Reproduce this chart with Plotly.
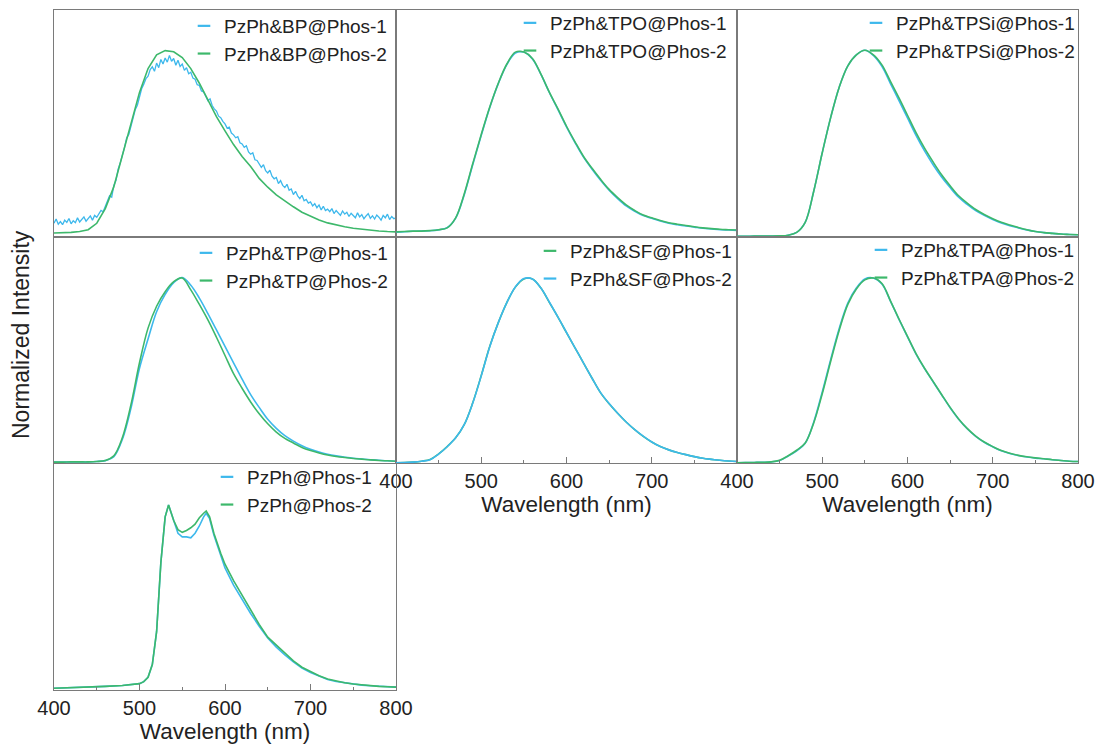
import plotly.graph_objects as go

# ---------------- data ----------------
wl10 = list(range(400, 801, 10))
wl2 = [400 + 2.5 * i for i in range(161)]

bp_1 = [0.055, 0.078, 0.050, 0.064, 0.047, 0.072, 0.060, 0.081, 0.052, 0.069,
        0.058, 0.085, 0.062, 0.074, 0.090, 0.066, 0.080, 0.095, 0.072, 0.098,
        0.088, 0.110, 0.125, 0.118, 0.150, 0.172, 0.205, 0.198, 0.262, 0.290,
        0.350, 0.385, 0.425, 0.470, 0.522, 0.540, 0.585, 0.628, 0.675, 0.700,
        0.745, 0.790, 0.815, 0.845, 0.858, 0.895, 0.910, 0.885, 0.930, 0.905,
        0.950, 0.925, 0.958, 0.935, 0.972, 0.940, 0.955, 0.918, 0.945, 0.912,
        0.925, 0.890, 0.905, 0.872, 0.880, 0.848, 0.842, 0.812, 0.808, 0.778,
        0.772, 0.748, 0.725, 0.735, 0.698, 0.680, 0.668, 0.640, 0.632, 0.612,
        0.598, 0.575, 0.580, 0.548, 0.538, 0.522, 0.528, 0.495, 0.488, 0.470,
        0.478, 0.445, 0.432, 0.440, 0.402, 0.398, 0.382, 0.360, 0.375, 0.342,
        0.330, 0.345, 0.312, 0.298, 0.305, 0.272, 0.288, 0.262, 0.250, 0.268,
        0.235, 0.242, 0.212, 0.230, 0.205, 0.190, 0.208, 0.178, 0.185, 0.165,
        0.172, 0.150, 0.162, 0.140, 0.155, 0.128, 0.148, 0.125, 0.132, 0.118,
        0.135, 0.108, 0.125, 0.112, 0.098, 0.122, 0.105, 0.115, 0.092, 0.110,
        0.098, 0.085, 0.112, 0.090, 0.102, 0.080, 0.095, 0.108, 0.082, 0.096,
        0.078, 0.100, 0.088, 0.072, 0.098, 0.085, 0.105, 0.075, 0.092, 0.080,
        0.085]
bp_2 = [0.002, 0.003, 0.005, 0.010, 0.020, 0.055, 0.135, 0.255, 0.430, 0.600,
        0.770, 0.900, 0.975, 0.998, 0.992, 0.960, 0.900, 0.820, 0.725, 0.637,
        0.560, 0.485, 0.420, 0.365, 0.300, 0.252, 0.210, 0.175, 0.145, 0.115,
        0.092, 0.073, 0.057, 0.045, 0.036, 0.028, 0.022, 0.017, 0.013, 0.010,
        0.008]

tpo_1 = [0.006, 0.009, 0.011, 0.013, 0.014, 0.019, 0.031, 0.083, 0.210, 0.375,
         0.535, 0.688, 0.818, 0.922, 0.985, 0.990, 0.952, 0.868, 0.768, 0.676,
         0.582, 0.496, 0.416, 0.350, 0.290, 0.236, 0.190, 0.150, 0.121, 0.097,
         0.082, 0.067, 0.055, 0.047, 0.040, 0.034, 0.028, 0.024, 0.020, 0.018,
         0.016]
tpo_2 = [0.008, 0.010, 0.012, 0.012, 0.015, 0.020, 0.030, 0.085, 0.215, 0.380,
         0.540, 0.690, 0.820, 0.925, 0.990, 0.990, 0.955, 0.870, 0.770, 0.680,
         0.585, 0.500, 0.420, 0.355, 0.295, 0.240, 0.195, 0.155, 0.125, 0.100,
         0.085, 0.070, 0.058, 0.050, 0.043, 0.036, 0.030, 0.026, 0.022, 0.020,
         0.018]

tpsi_1 = [-0.016, -0.016, -0.015, -0.015, -0.015, -0.014, -0.010, 0.005, 0.060, 0.230,
          0.440, 0.635, 0.800, 0.915, 0.975, 1.000, 0.972, 0.912, 0.818, 0.725,
          0.630, 0.535, 0.450, 0.375, 0.308, 0.250, 0.197, 0.158, 0.124, 0.098,
          0.076, 0.057, 0.042, 0.030, 0.019, 0.010, 0.004, 0.000, -0.004, -0.006,
          -0.008]
tpsi_2 = [-0.016, -0.016, -0.015, -0.015, -0.015, -0.014, -0.010, 0.005, 0.060, 0.230,
          0.440, 0.635, 0.800, 0.915, 0.975, 1.000, 0.975, 0.920, 0.830, 0.740,
          0.645, 0.550, 0.465, 0.390, 0.320, 0.260, 0.205, 0.165, 0.130, 0.103,
          0.080, 0.060, 0.045, 0.032, 0.020, 0.010, 0.004, 0.000, -0.004, -0.006,
          -0.008]

tp_1 = [-0.015, -0.015, -0.014, -0.014, -0.014, -0.012, -0.007, 0.015, 0.110, 0.280,
        0.500, 0.660, 0.810, 0.905, 0.970, 0.998, 0.955, 0.885, 0.800, 0.710,
        0.620, 0.530, 0.440, 0.355, 0.285, 0.220, 0.170, 0.130, 0.100, 0.075,
        0.055, 0.040, 0.028, 0.019, 0.012, 0.006, 0.002, -0.002, -0.005, -0.008,
        -0.010]
tp_2 = [-0.015, -0.015, -0.014, -0.014, -0.014, -0.012, -0.006, 0.020, 0.120, 0.300,
        0.530, 0.720, 0.840, 0.920, 0.975, 0.995, 0.930, 0.850, 0.765, 0.670,
        0.570, 0.470, 0.390, 0.315, 0.250, 0.195, 0.150, 0.115, 0.090, 0.065,
        0.048, 0.035, 0.024, 0.016, 0.010, 0.005, 0.001, -0.003, -0.006, -0.008,
        -0.010]

sf_1 = [-0.019, -0.018, -0.015, -0.010, -0.001, 0.030, 0.070, 0.118, 0.190, 0.310,
        0.460, 0.620, 0.750, 0.860, 0.945, 0.990, 0.990, 0.940, 0.860, 0.780,
        0.695, 0.612, 0.528, 0.445, 0.365, 0.305, 0.253, 0.205, 0.163, 0.126,
        0.095, 0.070, 0.052, 0.038, 0.026, 0.015, 0.006, 0.000, -0.005, -0.009,
        -0.012]
sf_2 = [-0.019, -0.018, -0.015, -0.010, -0.002, 0.029, 0.069, 0.118, 0.190, 0.308,
        0.458, 0.618, 0.750, 0.860, 0.946, 0.992, 0.990, 0.940, 0.862, 0.780,
        0.696, 0.612, 0.528, 0.445, 0.366, 0.306, 0.253, 0.205, 0.163, 0.127,
        0.095, 0.070, 0.052, 0.038, 0.026, 0.015, 0.006, 0.000, -0.005, -0.009,
        -0.012]

tpa_1 = [-0.019, -0.018, -0.017, -0.016, -0.014, -0.006, 0.018, 0.047, 0.088, 0.205,
         0.370, 0.550, 0.720, 0.858, 0.940, 0.990, 0.995, 0.962, 0.868, 0.768,
         0.672, 0.578, 0.498, 0.426, 0.354, 0.283, 0.220, 0.168, 0.126, 0.094,
         0.069, 0.047, 0.032, 0.021, 0.013, 0.007, 0.003, -0.002, -0.006, -0.010,
         -0.012]
tpa_2 = [-0.019, -0.018, -0.017, -0.016, -0.014, -0.005, 0.020, 0.050, 0.090, 0.200,
         0.360, 0.540, 0.710, 0.850, 0.935, 0.985, 0.995, 0.965, 0.870, 0.770,
         0.675, 0.580, 0.500, 0.428, 0.356, 0.285, 0.222, 0.170, 0.128, 0.095,
         0.070, 0.048, 0.033, 0.022, 0.014, 0.008, 0.003, -0.002, -0.006, -0.010,
         -0.012]

pzph_wl = [400, 420, 440, 460, 480, 500, 505, 510, 515, 520, 525, 530, 534,
           540, 545, 550, 555, 560, 565, 570, 575, 578, 582, 587, 595, 600,
           610, 620, 630, 640, 650, 660, 670, 680, 690, 700, 710, 720, 730,
           740, 750, 760, 770, 780, 790, 800]
pzph_1 = [-0.010, -0.008, -0.005, 0.000, 0.005, 0.015, 0.026, 0.050, 0.120, 0.300,
          0.680, 0.930, 0.995,
          0.905, 0.840, 0.820, 0.820, 0.815, 0.840, 0.880, 0.930, 0.950,
          0.920, 0.830, 0.715, 0.650,
          0.555, 0.475, 0.400, 0.330, 0.265, 0.215, 0.172, 0.135, 0.100, 0.076,
          0.055, 0.038, 0.027, 0.019, 0.012, 0.007, 0.003, 0.000, -0.002, -0.004]
pzph_2 = [-0.010, -0.008, -0.005, 0.000, 0.005, 0.015, 0.026, 0.050, 0.120, 0.300,
          0.680, 0.930, 0.995,
          0.910, 0.860, 0.845, 0.855, 0.870, 0.890, 0.925, 0.950, 0.962,
          0.930, 0.840, 0.730, 0.670,
          0.580, 0.500, 0.420, 0.340, 0.270, 0.225, 0.180, 0.140, 0.105, 0.080,
          0.058, 0.040, 0.028, 0.020, 0.013, 0.008, 0.004, 0.000, -0.002, -0.004]

xticks_full = [400, 500, 600, 700, 800]
xticks_mid = [400, 500, 600, 700]
xticks_minor = [450, 550, 650, 750]

BLUE = "#3DB8EC"
GREEN = "#3DB86B"

# panels: (label1, x1, y1, color1, label2, x2, y2, color2)
panels = [
    ("PzPh&BP@Phos-1", wl2, bp_1, BLUE, "PzPh&BP@Phos-2", wl10, bp_2, GREEN),
    ("PzPh&TPO@Phos-1", wl10, tpo_1, BLUE, "PzPh&TPO@Phos-2", wl10, tpo_2, GREEN),
    ("PzPh&TPSi@Phos-1", wl10, tpsi_1, BLUE, "PzPh&TPSi@Phos-2", wl10, tpsi_2, GREEN),
    ("PzPh&TP@Phos-1", wl10, tp_1, BLUE, "PzPh&TP@Phos-2", wl10, tp_2, GREEN),
    ("PzPh&SF@Phos-1", wl10, sf_1, GREEN, "PzPh&SF@Phos-2", wl10, sf_2, BLUE),
    ("PzPh&TPA@Phos-1", wl10, tpa_1, BLUE, "PzPh&TPA@Phos-2", wl10, tpa_2, GREEN),
    ("PzPh@Phos-1", pzph_wl, pzph_1, BLUE, "PzPh@Phos-2", pzph_wl, pzph_2, GREEN),
]

# ---------------- layout geometry (pixels) ----------------
W, H = 1099, 746
cols = [(54, 396), (396, 737), (737, 1078)]
rows = [(10, 237), (237, 463), (464, 690)]
pos = [(0, 0), (0, 1), (0, 2), (1, 0), (1, 1), (1, 2), (2, 0)]
bottom_panels = {4: xticks_mid, 5: xticks_full, 6: xticks_full}
# legend right edge / top (px)
leg_pos = [(392, 7), (732, 4), (1080, 4), (393, 234), (737, 232), (1080, 231), (377, 458)]

FONT = "Liberation Sans, Arial, sans-serif"
TXT = "#222222"
AX = "#7a7a7a"

fig = go.Figure()
layout = dict(
    width=W, height=H,
    margin=dict(l=0, r=0, t=0, b=0, pad=0, autoexpand=False),
    paper_bgcolor="white", plot_bgcolor="white",
    font=dict(family=FONT, color=TXT),
    showlegend=True,
)

for i, (l1, x1, y1, c1, l2, x2, y2, c2) in enumerate(panels):
    k = i + 1
    xa = "x" if k == 1 else f"x{k}"
    ya = "y" if k == 1 else f"y{k}"
    lg = "legend" if k == 1 else f"legend{k}"
    smooth = "linear" if k in (1, 7) else "spline"
    for lab, xs, ys, col in ((l1, x1, y1, c1), (l2, x2, y2, c2)):
        lw = 1.3 if xs is wl2 else 1.6
        fig.add_trace(go.Scatter(x=xs, y=ys, mode="lines", xaxis=xa, yaxis=ya,
                                 line=dict(color=col, width=lw, shape=smooth),
                                 showlegend=False, hoverinfo="skip"))
    for lab, col in ((l1, c1), (l2, c2)):
        fig.add_trace(go.Scatter(x=[None], y=[None], mode="markers", name=lab,
                                 xaxis=xa, yaxis=ya, legend=lg,
                                 marker=dict(symbol="line-ew", size=9,
                                             line=dict(color=col, width=2.2))))
    r, c = pos[i]
    (x0, x1p), (t, b) = cols[c], rows[r]
    xdom = [x0 / W, x1p / W]
    ydom = [1 - b / H, 1 - t / H]
    xkey = "xaxis" if k == 1 else f"xaxis{k}"
    ykey = "yaxis" if k == 1 else f"yaxis{k}"
    xaxis = dict(domain=xdom, anchor=ya, range=[400, 800], showgrid=False,
                 zeroline=False, showline=True, mirror=True, linecolor=AX,
                 linewidth=1.3, ticks="", showticklabels=False, automargin=False)
    if i in bottom_panels:
        xaxis.update(ticks="inside", tickvals=bottom_panels[i], ticklen=6,
                     tickcolor=AX, tickwidth=1.2, showticklabels=True,
                     tickfont=dict(size=20, color=TXT, family=FONT),
                     minor=dict(ticks="inside", tickvals=xticks_minor,
                                ticklen=3, tickcolor=AX, tickwidth=1.2),
                     title=dict(text="Wavelength (nm)", standoff=1,
                                font=dict(size=22.5, color=TXT, family=FONT)))
    yaxis = dict(domain=ydom, anchor=xa, range=[-0.02, 1.22], showgrid=False,
                 zeroline=False, showline=True, mirror=True, linecolor=AX,
                 linewidth=1.3, ticks="", showticklabels=False, automargin=False)
    layout[xkey] = xaxis
    layout[ykey] = yaxis
    lx, ly = leg_pos[i]
    layout[lg] = dict(x=lx / W, y=1 - ly / H, xanchor="right", yanchor="top",
                      bgcolor="rgba(0,0,0,0)", borderwidth=0, tracegroupgap=0,
                      font=dict(size=19, color=TXT, family=FONT))

layout["annotations"] = [dict(text="Normalized Intensity", textangle=-90,
                              x=21 / W, y=1 - 335 / H, xref="paper", yref="paper",
                              showarrow=False, xanchor="center", yanchor="middle",
                              font=dict(size=23, color=TXT, family=FONT))]

fig.update_layout(**layout)
fig.write_html("out.html")
